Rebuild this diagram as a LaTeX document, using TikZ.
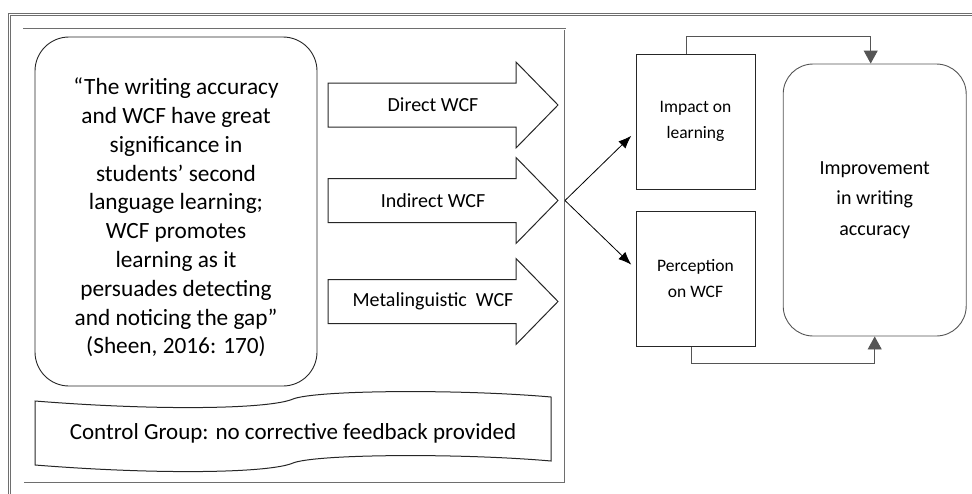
\documentclass[tikz,border=0pt]{standalone}
\usepackage{fontspec}
\setmainfont{Carlito}
\usetikzlibrary{arrows.meta, positioning}
\definecolor{frameGray}{HTML}{6E6E6E}
\definecolor{lineDark}{HTML}{262626}
\definecolor{loopGray}{HTML}{555555}

\begin{document}
\begin{tikzpicture}[
        x=1pt, y=-1pt,
        outerframe/.style={
            draw=frameGray,
            line width=1pt,
            double=white,
            double distance=1.3pt
        },
        innerframe/.style={
            draw=frameGray,
            line width=0.6pt,
            double=white,
            double distance=0.7pt
        },
        quotebox/.style={
            draw=lineDark,
            line width=0.9pt,
            rounded corners=34pt,
            minimum width=282pt,
            minimum height=349pt,
            inner sep=0pt
        },
        quotetext/.style={
            inner sep=0pt,
            align=center,
            font=\fontsize{23.3}{28.8}\selectfont
        },
        blockarrow/.style={
            draw=lineDark,
            line width=1pt,
            line join=miter
        },
        armlabel/.style={
            inner sep=0pt,
            font=\fontsize{20}{24}\selectfont
        },
        effectbox/.style={
            draw=lineDark,
            line width=0.8pt,
            minimum width=119pt,
            minimum height=135pt,
            inner sep=0pt,
            align=center,
            font=\fontsize{17.5}{26}\selectfont
        },
        outcomebox/.style={
            draw=loopGray,
            line width=0.9pt,
            rounded corners=30pt,
            minimum width=183pt,
            minimum height=272pt,
            inner sep=0pt,
            align=center,
            font=\fontsize{20}{30.5}\selectfont
        },
        fanarrow/.style={
            draw=black,
            line width=0.8pt,
            -{Latex[length=13pt,width=10pt]}
        },
        loopline/.style={
            draw=loopGray,
            line width=0.9pt,
            -{Triangle[length=13pt,width=14pt,fill=loopGray]}
        }
    ]

    % Bildfläche in Pixeln: 972 x 493, y zeigt nach unten.
    \useasboundingbox (0,0) rectangle (972,493);

    \draw[outerframe] (9.8,14.3) rectangle (990,510);
    \draw[innerframe] (23.5,29) rectangle (565,483);

    \node[quotebox] (quote) at (176,211.5) {};
    \node[quotetext] (quotetxt) at ([yshift=-6pt]quote.center)
        {“The writing accuracy\\and WCF have great\\significance in\\students’ second\\language learning;\\WCF promotes\\learning as it\\persuades detecting\\and noticing the gap”\\(Sheen, 2016: 170)};

    % die drei Feedback-Pfeile
    \foreach \yc/\lab/\nm in {105/Direct WCF/direct,
                              200.5/Indirect WCF/indirect,
                              301.5/Metalinguistic\ \ WCF/meta} {
        \draw[blockarrow] (328,\yc) ++(0,-22) -- ++(188,0) -- ++(0,-21)
            -- (558,\yc) -- ++(-42,43) -- ++(0,-21) -- ++(-188,0) -- cycle;
        \node[armlabel] (\nm) at (433,\yc) {\lab};
    }

    % Kontrollgruppe als Band
    \draw[lineDark, line width=1pt]
        (35,401) .. controls (160,411) and (270,409) .. (293,399)
        .. controls (316,390) and (460,389) .. (551,397)
        -- (551,461)
        .. controls (460,453) and (316,454) .. (293,463)
        .. controls (270,473) and (160,475) .. (35,465) -- cycle;
    \node[font=\fontsize{23}{27}\selectfont] (control) at (293,433)
        {Control Group: no corrective feedback provided};

    \node[effectbox] (impact) at (695.5,121.6) {Impact on\\learning};
    \node[effectbox] (percep) at (695.5,278.8) {Perception\\on WCF};
    \node[outcomebox] (improve) at (874.7,200)
        {Improvement\\in writing\\accuracy};

    \coordinate (fan) at (565,200.5);
    \draw[fanarrow, shorten >=6pt] (fan) -- ([yshift=-10pt]impact.west);
    \draw[fanarrow, shorten >=6pt] (fan) -- ([yshift=10pt]percep.west);

    \draw[loopline] ([xshift=-9pt]impact.north) -- ++(0,-17)
        -| ([xshift=-4pt]improve.north);
    \draw[loopline] ([xshift=-4pt]percep.south) -- ++(0,17)
        -| (improve.south);

\end{tikzpicture}
\end{document}
